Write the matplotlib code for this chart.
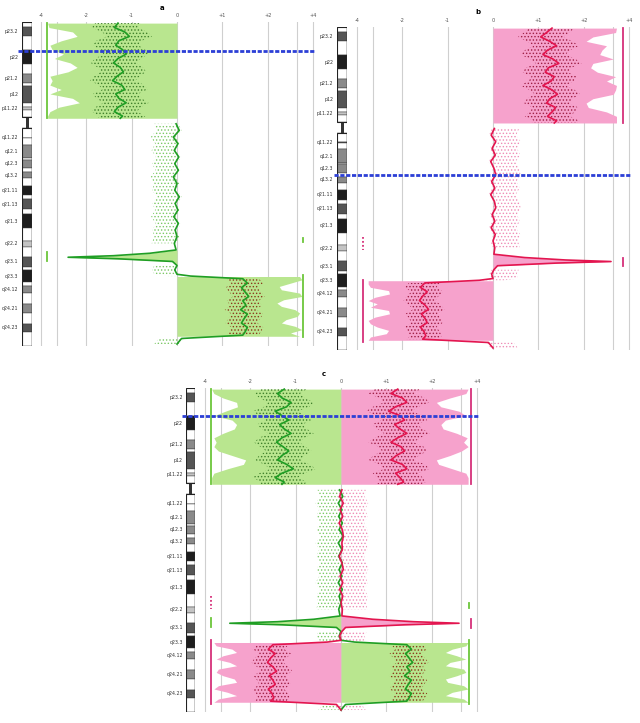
import matplotlib
matplotlib.use('Agg')
import matplotlib.pyplot as plt
import numpy as np

# chromosome 8 ideogram (Mb)
BAND_START = [0, 2.2, 6.2, 12.7, 19.1, 23.5, 27.5, 29.0, 36.7, 38.5,
              39.9, 43.1, 45.6, 48.1, 52.2, 52.6, 55.5, 61.6, 62.2, 66.0,
              68.0, 70.5, 73.9, 78.3, 80.1, 84.6, 86.9, 93.3, 99.0, 101.6,
              106.2, 110.5, 112.1, 117.7, 119.2, 122.5, 127.3, 131.5, 136.4, 139.9]
BAND_END = BAND_START[1:] + [146.4]
BAND_NAME = ['p23.3', 'p23.2', 'p23.1', 'p22', 'p21.3', 'p21.2', 'p21.1', 'p12', 'p11.23', 'p11.22',
             'p11.21', 'p11.1', 'q11.1', 'q11.21', 'q11.22', 'q11.23', 'q12.1', 'q12.2', 'q12.3', 'q13.1',
             'q13.2', 'q13.3', 'q21.11', 'q21.12', 'q21.13', 'q21.2', 'q21.3', 'q22.1', 'q22.2', 'q22.3',
             'q23.1', 'q23.2', 'q23.3', 'q24.11', 'q24.12', 'q24.13', 'q24.21', 'q24.22', 'q24.23', 'q24.3']
BAND_STAIN = ['gneg', 'gpos75', 'gneg', 'gpos100', 'gneg', 'gpos50', 'gneg', 'gpos75', 'gneg', 'gpos25',
              'gneg', 'acen', 'acen', 'gneg', 'gpos75', 'gneg', 'gpos50', 'gneg', 'gpos50', 'gneg',
              'gpos50', 'gneg', 'gpos100', 'gneg', 'gpos75', 'gneg', 'gpos100', 'gneg', 'gpos25', 'gneg',
              'gpos75', 'gneg', 'gpos100', 'gneg', 'gpos50', 'gneg', 'gpos50', 'gneg', 'gpos75', 'gneg']
LABELED = ['p23.2', 'p22', 'p21.2', 'p12', 'p11.22', 'q11.22', 'q12.1', 'q12.3', 'q13.2', 'q21.11',
           'q21.13', 'q21.3', 'q22.2', 'q23.1', 'q23.3', 'q24.12', 'q24.21', 'q24.23']

# x axis (log2 ratio scale as drawn)
TICK_POS = [-3, -2, -1, 0, 1, 2, 3]
TICK_LABELS = ['-4', '-2', '-1', '0', '+1', '+2', '+4']
EXTRA_GRID = [-2.65, 2.65]
PANEL_LETTERS = ['a', 'b', 'c']
BREAKPOINT = [13.0, 67.0, 12.6]

# p arm profiles
P_Y = [0.5, 2.5, 4.5, 6.5, 8.5, 10.5, 12.5, 14.5, 16.5, 18.5, 20.5, 22.5,
       24.5, 26.5, 28.5, 30.5, 32.5, 34.5, 36.5, 38.5, 40.5, 42.5, 43.5]
A_P_LINE = [-1.30, -1.38, -1.15, -1.05, -1.28, -1.35, -1.20, -1.12, -1.30, -1.40, -1.25, -1.18,
            -1.32, -1.42, -1.22, -1.15, -1.35, -1.28, -1.12, -1.30, -1.38, -1.20, -1.25]
A_P_EDGE = [-2.85, -2.82, -2.30, -2.20, -2.55, -2.80, -2.75, -2.50, -2.70, -2.35, -2.20, -2.40,
            -2.80, -2.75, -2.80, -2.55, -2.80, -2.30, -2.15, -2.60, -2.80, -2.85, -2.85]
B_P_LINE = [1.30, 1.18, 1.05, 1.25, 1.40, 1.20, 1.10, 1.32, 1.45, 1.22, 1.15, 1.35,
            1.28, 1.10, 1.30, 1.42, 1.25, 1.18, 1.38, 1.30, 1.20, 1.40, 1.35]
B_P_EDGE = [2.72, 2.70, 2.20, 2.05, 2.50, 2.40, 2.35, 2.65, 2.20, 2.15, 2.30, 2.70,
            2.50, 2.72, 2.70, 2.65, 2.20, 2.05, 2.10, 2.50, 2.72, 2.72, 2.72]
C_P_GREEN = [-1.25, -1.40, -1.30, -1.10, -1.20, -1.45, -1.30, -1.15, -1.35, -1.25, -1.10, -1.30,
             -1.42, -1.28, -1.15, -1.30, -1.40, -1.20, -1.05, -1.30, -1.45, -1.25, -1.30]
C_P_RED = [1.25, 1.10, 1.35, 1.45, 1.20, 1.05, 1.30, 1.40, 1.18, 1.30, 1.45, 1.25,
           1.10, 1.32, 1.40, 1.22, 1.10, 1.35, 1.45, 1.20, 1.30, 1.38, 1.25]
C_P_LEFT = [-2.85, -2.80, -2.60, -2.30, -2.28, -2.55, -2.80, -2.40, -2.30, -2.35, -2.60, -2.80,
            -2.75, -2.80, -2.70, -2.40, -2.10, -2.15, -2.50, -2.80, -2.85, -2.85, -2.85]
C_P_RIGHT = [2.80, 2.75, 2.40, 2.10, 2.20, 2.60, 2.75, 2.30, 2.20, 2.25, 2.55, 2.78,
             2.70, 2.80, 2.65, 2.40, 2.10, 2.15, 2.45, 2.75, 2.80, 2.80, 2.80]

# q arm profiles (shared positions)
Q_Y = [46, 49, 52, 55, 58, 61, 64, 67, 70, 73, 76, 79, 82, 85, 88, 91, 94, 97, 100, 103,
       104.5, 105.6, 106.3, 107.0, 108.2, 110, 112, 114, 114.8, 116, 118, 120, 122, 124,
       126, 128, 130, 132, 134, 136, 138, 140, 141.5, 143, 145.5]
A_Q_LINE = [-0.02, 0.05, -0.08, 0.02, -0.06, 0.04, -0.05, 0.03, -0.08, 0.00, -0.05, 0.05,
            -0.04, 0.02, -0.07, 0.03, -0.04, 0.00, -0.06, -0.02,
            -0.60, -1.40, -2.40, -1.30, -0.10, 0.00, -0.05, 0.00, 0.30, 1.45, 1.55, 1.42, 1.50, 1.58,
            1.45, 1.52, 1.40, 1.55, 1.48, 1.42, 1.55, 1.50, 1.45, 0.10, 0.00]
B_Q_LINE = [0.03, -0.04, 0.06, -0.02, 0.05, -0.05, 0.02, 0.06, -0.03, 0.04, -0.05, 0.03,
            0.06, -0.02, 0.04, -0.04, 0.05, 0.00, 0.04, 0.02,
            0.70, 1.60, 2.60, 1.40, 0.10, 0.02, -0.03, 0.00, -0.30, -1.50, -1.60, -1.45, -1.55, -1.62,
            -1.50, -1.42, -1.58, -1.50, -1.45, -1.60, -1.52, -1.48, -1.55, -0.10, 0.00]
C_Q_GREEN = [-0.03, 0.04, -0.06, 0.02, -0.05, 0.03, -0.04, 0.05, -0.06, 0.02, -0.05, 0.03,
             -0.04, 0.02, -0.06, 0.03, -0.04, 0.00, -0.05, -0.02,
             -0.60, -1.40, -2.45, -1.30, -0.10, 0.00, -0.04, 0.00, 0.30, 1.45, 1.55, 1.42, 1.50, 1.58,
             1.45, 1.52, 1.40, 1.55, 1.48, 1.42, 1.55, 1.50, 1.45, 0.10, 0.00]
C_Q_RED = [0.02, -0.03, 0.05, -0.02, 0.04, -0.04, 0.03, 0.05, 0.02, 0.03, -0.04, 0.02,
           0.05, -0.02, 0.04, -0.03, 0.04, 0.00, 0.03, 0.02,
           0.70, 1.60, 2.60, 1.40, 0.10, 0.02, -0.03, 0.00, -0.30, -1.50, -1.60, -1.45, -1.55, -1.62,
           -1.50, -1.42, -1.58, -1.50, -1.45, -1.60, -1.52, -1.48, -1.55, -0.10, 0.00]

# amplified / deleted distal q segment outline
AMP_Y = [115, 116.5, 118, 119.5, 121, 122.5, 124, 125.5, 127, 128.5,
         130, 131.5, 133, 134.5, 136, 137.5, 139, 140.5, 142]
A_AMP_EDGE = [2.70, 2.75, 2.50, 2.25, 2.30, 2.70, 2.75, 2.35, 2.20, 2.30,
              2.60, 2.70, 2.65, 2.40, 2.30, 2.60, 2.75, 2.50, 2.70]
B_AMP_EDGE = [-2.75, -2.75, -2.70, -2.30, -2.28, -2.60, -2.75, -2.55, -2.70, -2.30,
              -2.28, -2.60, -2.75, -2.70, -2.55, -2.30, -2.35, -2.70, -2.75]
C_AMP_LEFT = [-2.80, -2.75, -2.40, -2.30, -2.60, -2.75, -2.45, -2.30, -2.70, -2.75,
              -2.60, -2.35, -2.30, -2.70, -2.80, -2.50, -2.30, -2.70, -2.80]
C_AMP_RIGHT = [2.80, 2.75, 2.45, 2.30, 2.55, 2.75, 2.40, 2.30, 2.70, 2.75,
               2.55, 2.30, 2.35, 2.70, 2.80, 2.45, 2.30, 2.70, 2.80]

# side markers: x, start Mb, end Mb, colour key, dotted
A_MARKS = [(-2.87, 0.5, 43.5, 'g', False), (2.78, 114.5, 142.5, 'g', False),
           (-2.87, 104.0, 108.0, 'g', False), (2.78, 97.5, 99.5, 'g', False)]
B_MARKS = [(2.87, 0.5, 43.5, 'r', False), (-2.87, 114.5, 143.0, 'r', False),
           (2.87, 104.5, 108.5, 'r', False), (-2.87, 95.0, 101.0, 'r', True)]
C_MARKS = [(-2.87, 0.5, 43.5, 'g', False), (2.87, 0.5, 43.5, 'r', False),
           (-2.87, 114.0, 143.0, 'r', False), (2.82, 114.0, 143.0, 'g', False),
           (-2.87, 94.0, 100.0, 'r', True), (-2.87, 104.0, 108.0, 'g', False),
           (2.82, 97.0, 99.5, 'g', False), (2.87, 104.5, 108.5, 'r', False)]

GREEN_FILL = '#b9e68f'
GREEN_LINE = '#1f9e24'
GREEN_DOT = '#3f7f2a'
GREEN_LIGHT_DOT = '#7cc865'
PINK_FILL = '#f6a2cc'
PINK_LIGHT_DOT = '#ee8cb6'
RED_LINE = '#e3154f'
RED_DOT = '#9e1f45'
EDGE_COL = {'g': '#6cc63a', 'r': '#d6307a'}
BLUE = '#2c3fd6'
STAIN_COL = {'gneg': 'white', 'gpos25': '#c4c4c4', 'gpos50': '#8a8a8a',
             'gpos75': '#555555', 'gpos100': '#1e1e1e', 'acen': '#333333'}

W, H = 640, 723
CHR_LEN = 146.4
plt.rcParams['hatch.linewidth'] = 0.6

fig = plt.figure(figsize=(W / 100, H / 100), dpi=100)


def px_axes(left, top, right, bottom):
    return fig.add_axes([left / W, 1 - bottom / H, (right - left) / W, (bottom - top) / H])


def draw_ideogram(ax):
    ax.set_xlim(0, 1)
    ax.set_ylim(CHR_LEN, 0)
    ax.axis('off')
    for s, e, name, st in zip(BAND_START, BAND_END, BAND_NAME, BAND_STAIN):
        if st == 'acen':
            ax.barh((s + e) / 2, 0.3, left=0.35, height=e - s, color=STAIN_COL[st], lw=0)
        else:
            ax.barh((s + e) / 2, 1, left=0, height=e - s, color=STAIN_COL[st],
                    edgecolor='#333333', lw=0.3)
        if name in LABELED:
            ax.text(-0.35, (s + e) / 2, name, ha='right', va='center', fontsize=3.4,
                    color='#333333', clip_on=False)
    # arm outlines
    ax.barh(43.1 / 2, 1, left=0, height=43.1, color='none', edgecolor='#222222', lw=0.8)
    ax.barh((48.1 + CHR_LEN) / 2, 1, left=0, height=CHR_LEN - 48.1, color='none',
            edgecolor='#222222', lw=0.8)


def cloud(ax, y, lo, hi, col, where=None):
    ax.fill_betweenx(y, lo, hi, where=where, facecolor='none', edgecolor=col,
                     hatch='.....', lw=0, zorder=2)


def draw_panel(ax, p_fills, q_lines, amp_fills, marks, bp):
    ax.set_xlim(-3.15, 3.15)
    ax.set_ylim(CHR_LEN, 0)
    for sp in ax.spines.values():
        sp.set_visible(False)
    ax.set_xticks(TICK_POS + EXTRA_GRID)
    ax.set_xticklabels(TICK_LABELS + ['', ''])
    ax.xaxis.tick_top()
    ax.tick_params(axis='x', length=0, pad=3, labelsize=3.6, labelcolor='#555555')
    ax.set_yticks([])
    ax.grid(axis='x', color='#cfcfcf', lw=0.8, zorder=0)
    ax.set_axisbelow(True)

    py = np.array(P_Y)
    for edge, line, fill_c, line_c, dot_c in p_fills:
        ax.fill_betweenx(py, edge, 0, color=fill_c, lw=0, zorder=1)
        line = np.array(line)
        cloud(ax, py, line - 0.5, line + 0.5, dot_c)
        ax.plot(line, py, color=line_c, lw=1.2, zorder=3)

    ay = np.array(AMP_Y)
    for edge, fill_c in amp_fills:
        ax.fill_betweenx(ay, edge, 0, color=fill_c, lw=0, zorder=1)

    qy = np.array(Q_Y)
    spike = (qy >= 103) & (qy <= 108.5)
    amp = (qy >= 115.5) & (qy <= 141.5)
    normal = ~spike & ~amp
    for line, line_c, fill_c, dot_c, side in q_lines:
        line = np.array(line)
        ax.fill_betweenx(qy, 0, line, where=spike, color=fill_c, lw=0, zorder=1, interpolate=True)
        if side < 0:
            cloud(ax, qy, line - 0.5, line + 0.05, GREEN_LIGHT_DOT, where=normal)
        else:
            cloud(ax, qy, line - 0.05, line + 0.55, PINK_LIGHT_DOT, where=normal)
        cloud(ax, qy, line - 0.35, line + 0.35, dot_c, where=amp)
        ax.plot(line, qy, color=line_c, lw=1.2, zorder=3)

    for x, y0, y1, key, dotted in marks:
        ax.plot([x, x], [y0, y1], color=EDGE_COL[key], lw=1.3,
                ls=(0, (1, 1.2)) if dotted else '-', zorder=3, clip_on=False)

    ax.plot([-3.5, 3.05], [bp, bp], color=BLUE, lw=2.0, ls=(0, (1.5, 0.6)),
            zorder=6, clip_on=False)


# panel a
ax_id = px_axes(22, 22, 32, 346)
draw_ideogram(ax_id)
ax = px_axes(34, 22, 320, 346)
draw_panel(ax,
           [(A_P_EDGE, A_P_LINE, GREEN_FILL, GREEN_LINE, GREEN_DOT)],
           [(A_Q_LINE, GREEN_LINE, GREEN_FILL, '#8a3a1a', -1)],
           [(A_AMP_EDGE, GREEN_FILL)],
           A_MARKS, BREAKPOINT[0])
fig.text(162 / W, 1 - 8 / H, PANEL_LETTERS[0], fontsize=5, fontweight='bold', ha='center', va='center')

# panel b
ax_id = px_axes(337, 27, 347, 350)
draw_ideogram(ax_id)
ax = px_axes(350, 27, 636, 350)
draw_panel(ax,
           [(B_P_EDGE, B_P_LINE, PINK_FILL, RED_LINE, RED_DOT)],
           [(B_Q_LINE, RED_LINE, PINK_FILL, RED_DOT, 1)],
           [(B_AMP_EDGE, PINK_FILL)],
           B_MARKS, BREAKPOINT[1])
fig.text(478 / W, 1 - 12 / H, PANEL_LETTERS[1], fontsize=5, fontweight='bold', ha='center', va='center')

# panel c
ax_id = px_axes(186, 388, 195, 712)
draw_ideogram(ax_id)
ax = px_axes(198, 388, 484, 712)
draw_panel(ax,
           [(C_P_LEFT, C_P_GREEN, GREEN_FILL, GREEN_LINE, GREEN_DOT),
            (C_P_RIGHT, C_P_RED, PINK_FILL, RED_LINE, RED_DOT)],
           [(C_Q_GREEN, GREEN_LINE, GREEN_FILL, '#8a3a1a', -1),
            (C_Q_RED, RED_LINE, PINK_FILL, RED_DOT, 1)],
           [(C_AMP_LEFT, PINK_FILL), (C_AMP_RIGHT, GREEN_FILL)],
           C_MARKS, BREAKPOINT[2])
fig.text(324 / W, 1 - 374 / H, PANEL_LETTERS[2], fontsize=5, fontweight='bold', ha='center', va='center')

fig.savefig('out.png', dpi=100)
